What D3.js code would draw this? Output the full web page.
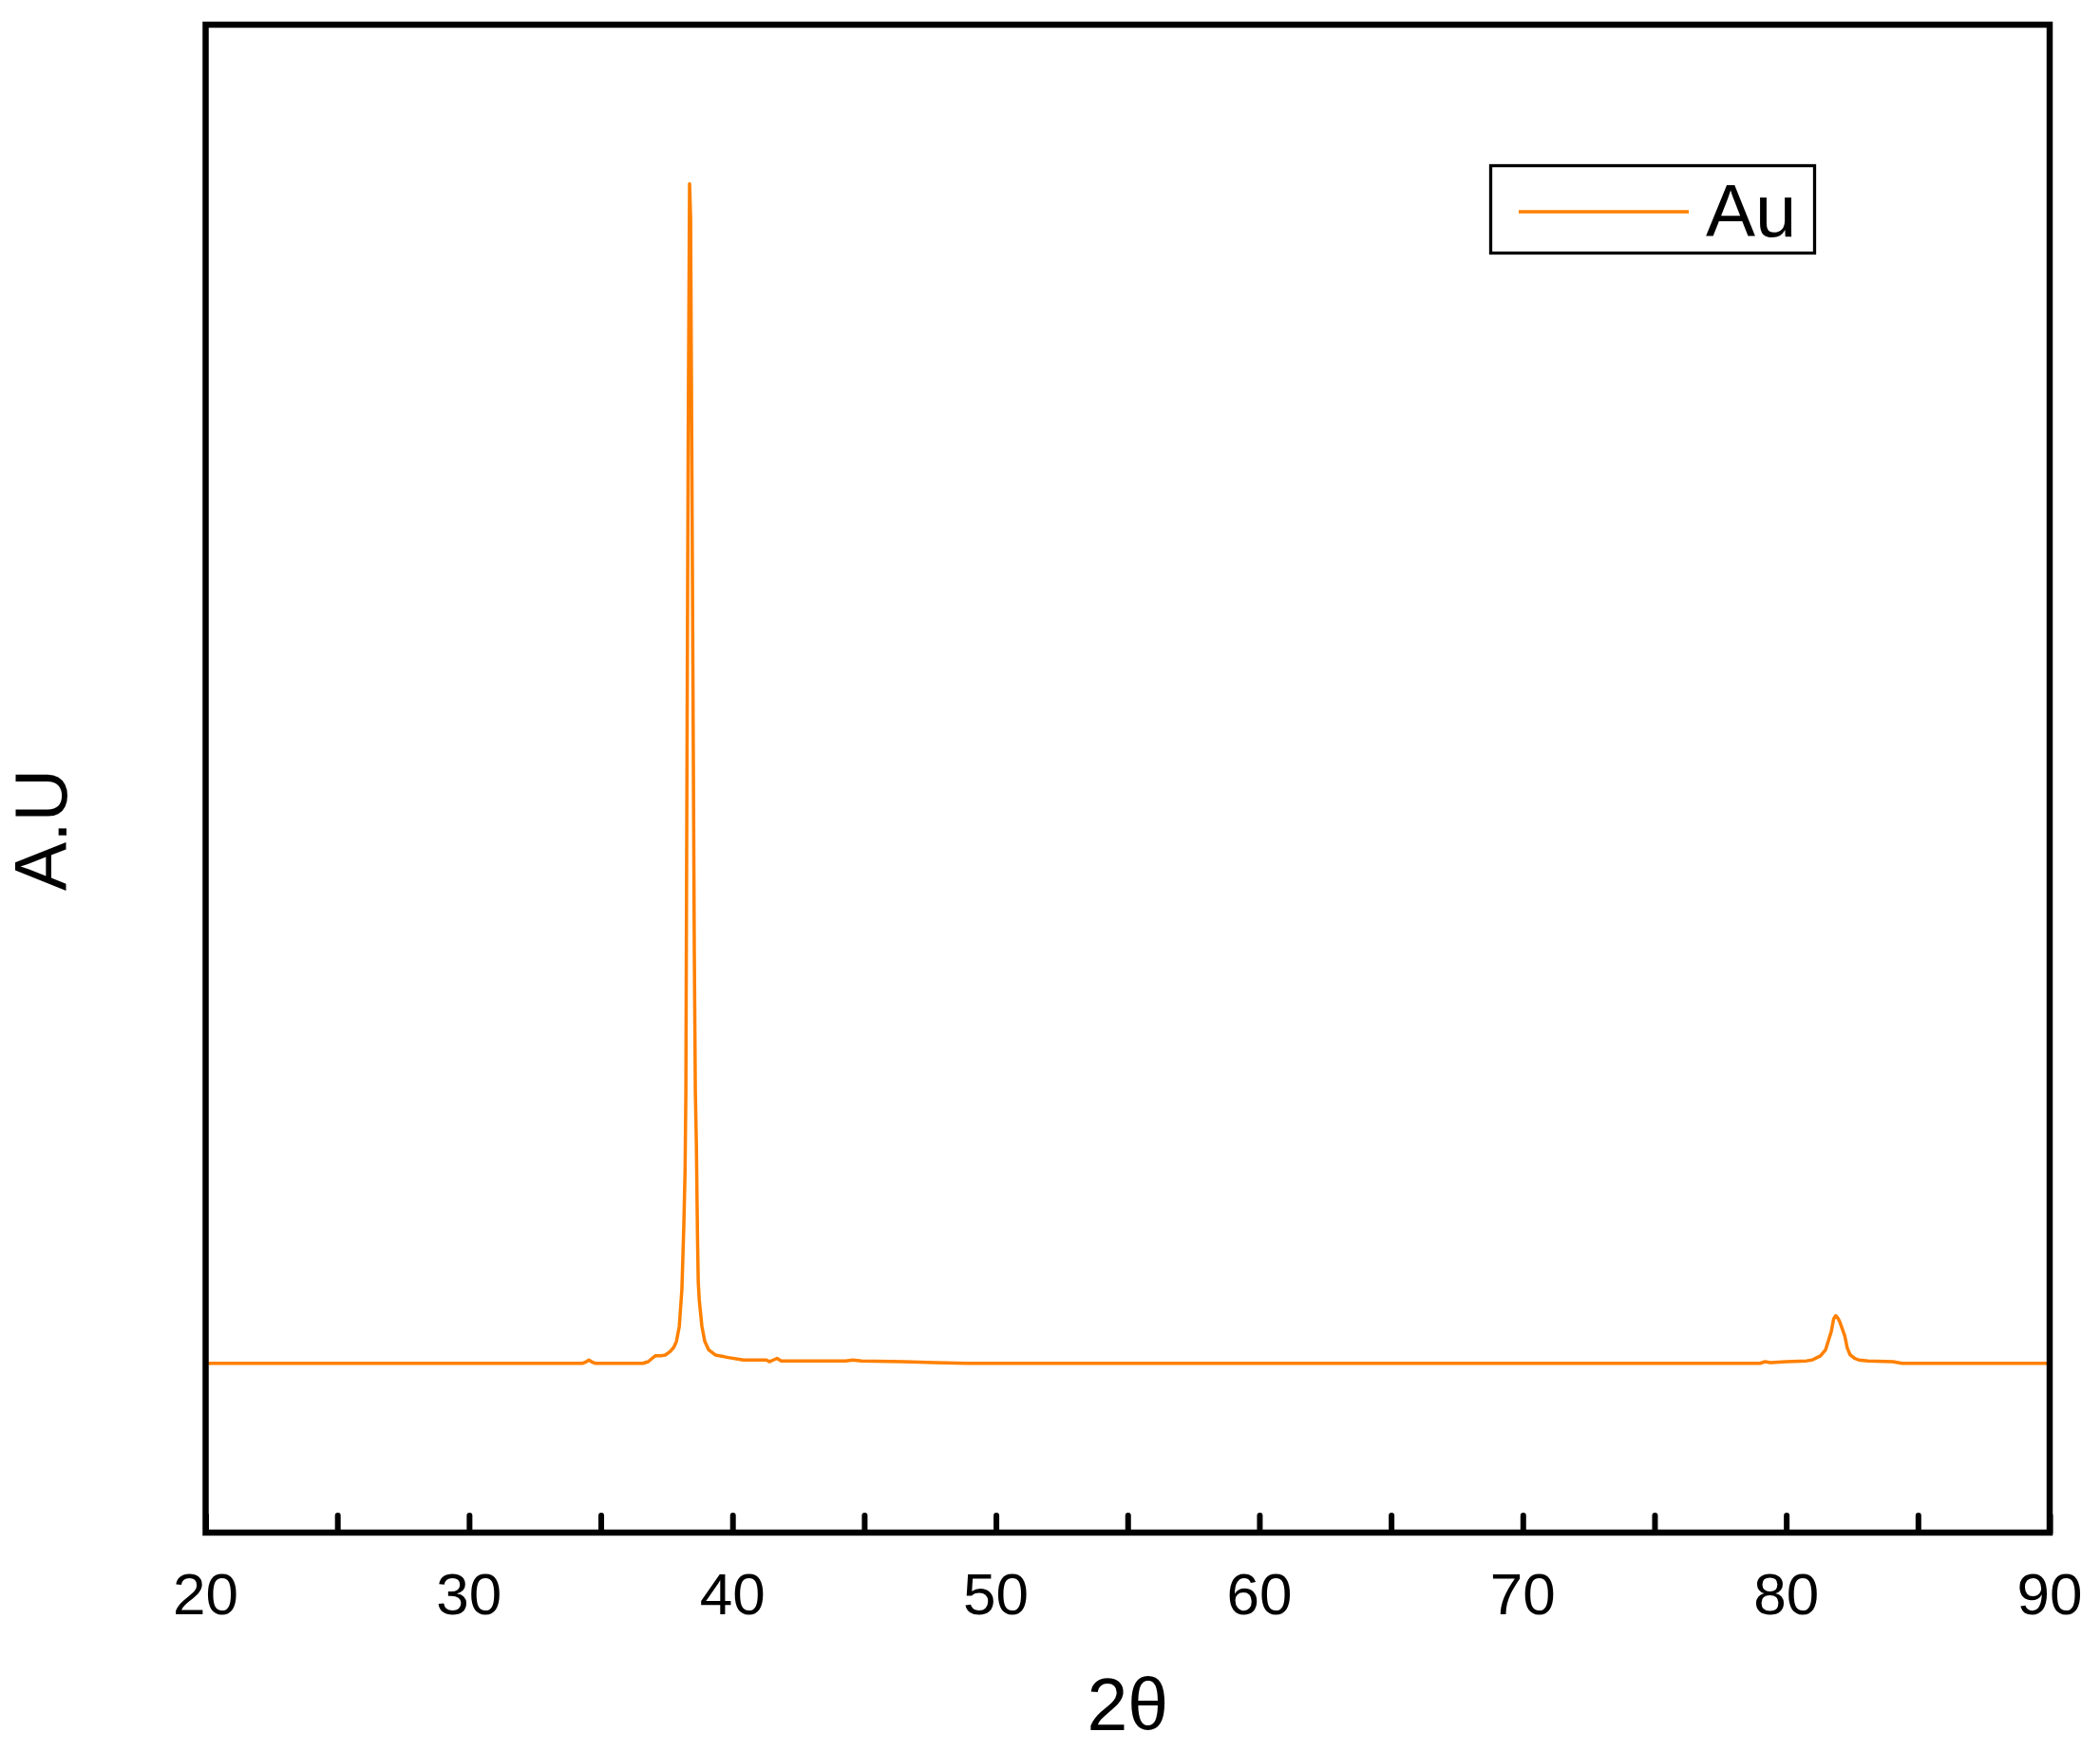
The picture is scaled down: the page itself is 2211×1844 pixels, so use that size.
<!DOCTYPE html>
<html lang="en">
<head>
<meta charset="utf-8">
<title>Au XRD</title>
<style>
  body { margin: 0; background: #fff; }
  text { font-family: "Liberation Sans", Arial, sans-serif; fill: #000; }
</style>
</head>
<body>
<script src="https://cdn.jsdelivr.net/npm/d3@7"></script>
<script>

// 2-theta positions (degrees) and intensity (arbitrary units)
var twoTheta = [20.0, 25.0, 30.0, 34.3, 34.45, 34.55, 34.65, 34.8, 36.6, 36.8,
                36.95, 37.07, 37.27, 37.45, 37.63, 37.77, 37.87, 37.98, 38.08, 38.11,
                38.15, 38.20, 38.23, 38.27, 38.32, 38.37, 38.41, 38.46, 38.55, 38.59,
                38.63, 38.67, 38.70, 38.74, 38.84, 38.95, 39.10, 39.35, 39.84, 40.42,
                41.29, 41.40, 41.55, 41.69, 41.85, 42.1, 44.3, 44.57, 44.9, 46.5,
                47.7, 49.0, 79.0, 79.2, 79.4, 80.0, 80.77, 80.98, 81.3, 81.49,
                81.6, 81.71, 81.80, 81.88, 81.96, 82.04, 82.22, 82.32, 82.43, 82.6,
                82.75, 83.11, 84.05, 84.4, 90.0];
var intensity = [202, 202, 202, 202, 204, 206, 204, 202, 202, 204,
                 208, 211, 211, 212, 216, 221, 228, 246, 291, 322,
                 364, 432, 526, 900, 1319, 1610, 1569, 1263, 696, 526,
                 461, 356, 299, 277, 246, 228, 218, 212, 209, 206,
                 206, 204, 206, 208, 205, 205, 205, 206, 205, 204,
                 203, 202, 202, 204, 203, 204, 205, 206, 211, 218,
                 229, 240, 255, 259, 256, 251, 235, 220, 212, 208,
                 206, 205, 204, 202, 202];

var xTicks = [20, 25, 30, 35, 40, 45, 50, 55, 60, 65, 70, 75, 80, 85, 90];
var xLabels = [20, 30, 40, 50, 60, 70, 80, 90];
var seriesName = "Au";
var lineColor = "#ff8000";

var width = 2211, height = 1844;
// plot frame (note: "top" is a reserved window property, so use a margin object)
var plot = { left: 216.5, right: 2158, top: 26, bottom: 1614 };

var x = d3.scaleLinear().domain([20, 90]).range([plot.left, plot.right]);
var y = d3.scaleLinear().domain([0, 1800]).range([plot.bottom, plot.top]);

var svg = d3.select("body").append("svg")
    .attr("width", width)
    .attr("height", height);

var data = twoTheta.map(function(t, i) { return { t: t, v: intensity[i] }; });

// pattern
svg.append("path")
    .datum(data)
    .attr("fill", "none")
    .attr("stroke", lineColor)
    .attr("stroke-width", 3.5)
    .attr("stroke-linejoin", "round")
    .attr("d", d3.line()
        .x(function(d) { return x(d.t); })
        .y(function(d) { return y(d.v); }));

// bottom axis: inward ticks every 5, labels every 10
var xAxis = svg.append("g")
    .attr("transform", "translate(0," + plot.bottom + ")")
    .call(d3.axisBottom(x).tickValues(xTicks).tickSize(-18).tickFormat(""));
xAxis.select(".domain").remove();
xAxis.selectAll(".tick line")
    .attr("stroke", "#000")
    .attr("stroke-width", 6)
    .attr("stroke-linecap", "round");

svg.selectAll(".xlabel")
    .data(xLabels)
    .enter().append("text")
    .attr("class", "xlabel")
    .attr("x", function(d) { return x(d); })
    .attr("y", 1700)
    .attr("text-anchor", "middle")
    .attr("font-size", 62)
    .text(function(d) { return d; });

// frame
svg.append("rect")
    .attr("x", plot.left)
    .attr("y", plot.top)
    .attr("width", plot.right - plot.left)
    .attr("height", plot.bottom - plot.top)
    .attr("fill", "none")
    .attr("stroke", "#000")
    .attr("stroke-width", 6.5);

// axis titles
svg.append("text")
    .attr("x", (plot.left + plot.right) / 2)
    .attr("y", 1822)
    .attr("text-anchor", "middle")
    .attr("font-size", 77)
    .text("2\u03b8");

svg.append("text")
    .attr("transform", "translate(70,874) rotate(-90)")
    .attr("text-anchor", "middle")
    .attr("font-size", 77)
    .text("A.U");

// legend
var legend = svg.append("g");
legend.append("rect")
    .attr("x", 1569.5)
    .attr("y", 174.5)
    .attr("width", 341)
    .attr("height", 92)
    .attr("fill", "#fff")
    .attr("stroke", "#000")
    .attr("stroke-width", 3.3);
legend.append("line")
    .attr("x1", 1599).attr("x2", 1778)
    .attr("y1", 223).attr("y2", 223)
    .attr("stroke", lineColor)
    .attr("stroke-width", 3.5);
legend.append("text")
    .attr("x", 1796)
    .attr("y", 249)
    .attr("font-size", 78)
    .text(seriesName);

</script>
</body>
</html>
